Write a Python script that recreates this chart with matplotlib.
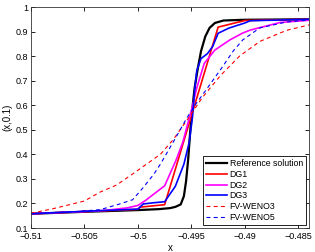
import matplotlib
matplotlib.use("Agg")
import matplotlib.pyplot as plt
from matplotlib.ticker import FuncFormatter

plt.rcParams['font.family'] = ['Liberation Sans', 'DejaVu Sans']
plt.rcParams['axes.unicode_minus'] = True

# Reference solution
ref_x = [-0.51, -0.505, -0.5, -0.498, -0.497, -0.4965, -0.496, -0.4957, -0.4955, -0.4953,
         -0.4951, -0.4949, -0.4947, -0.4944, -0.4941, -0.4937, -0.4933, -0.4928, -0.492, -0.490, -0.484]
ref_y = [0.158, 0.166, 0.173, 0.177, 0.181, 0.186, 0.196, 0.23, 0.29, 0.38,
         0.50, 0.59, 0.67, 0.75, 0.82, 0.88, 0.915, 0.935, 0.945, 0.948, 0.95]

# DG1
dg1_x = [-0.51, -0.505, -0.5, -0.4998, -0.4975, -0.4925, -0.490, -0.484]
dg1_y = [0.158, 0.167, 0.176, 0.185, 0.195, 0.918, 0.945, 0.95]

# DG2
dg2_x = [-0.51, -0.505, -0.503, -0.501, -0.5, -0.4993, -0.4975, -0.4964, -0.4958, -0.495,
         -0.4945, -0.4938, -0.4928, -0.4914, -0.4902, -0.4895, -0.4867, -0.484]
dg2_y = [0.158, 0.167, 0.172, 0.182, 0.192, 0.212, 0.272, 0.38, 0.45, 0.58,
         0.67, 0.77, 0.825, 0.866, 0.894, 0.906, 0.937, 0.946]

# DG3
dg3_x = [-0.51, -0.505, -0.5, -0.4995, -0.4985, -0.4975, -0.4965, -0.4957, -0.4952, -0.4949,
         -0.4947, -0.4945, -0.4941, -0.4935, -0.493, -0.4925, -0.4915, -0.490, -0.4895, -0.484]
dg3_y = [0.158, 0.168, 0.177, 0.198, 0.203, 0.207, 0.27, 0.36, 0.45, 0.55,
         0.66, 0.74, 0.79, 0.81, 0.84, 0.893, 0.914, 0.935, 0.944, 0.95]

# FV-WENO3
w3_x = [-0.51, -0.508, -0.505, -0.5036, -0.502, -0.5005, -0.4979, -0.4967, -0.4954, -0.494,
        -0.4923, -0.4905, -0.4886, -0.4861, -0.484]
w3_y = [0.16, 0.178, 0.21, 0.245, 0.275, 0.32, 0.40, 0.46, 0.54, 0.63,
        0.72, 0.80, 0.86, 0.905, 0.927]

# FV-WENO5
w5_x = [-0.51, -0.506, -0.5035, -0.5017, -0.5005, -0.4995, -0.4985, -0.4979, -0.4967, -0.4954,
        -0.4945, -0.4935, -0.4921, -0.4911, -0.4902, -0.4886, -0.4861, -0.484]
w5_y = [0.158, 0.166, 0.175, 0.198, 0.215, 0.265, 0.32, 0.36, 0.45, 0.55,
        0.61, 0.67, 0.756, 0.82, 0.866, 0.915, 0.939, 0.947]

x_ticks = [-0.51, -0.505, -0.5, -0.495, -0.49, -0.485]
y_ticks = [0.1, 0.2, 0.3, 0.4, 0.5, 0.6, 0.7, 0.8, 0.9, 1.0]

fig = plt.figure(figsize=(3.15, 2.52), dpi=100)
ax = fig.add_axes([0.0984, 0.0952, 0.8826, 0.8770])

ax.plot(ref_x, ref_y, color='black', lw=1.6, label='Reference solution')
ax.plot(dg1_x, dg1_y, color='#ff0000', lw=1.2, label='DG1')
ax.plot(dg2_x, dg2_y, color='#ff00ff', lw=1.2, label='DG2')
ax.plot(dg3_x, dg3_y, color='#0000ff', lw=1.2, label='DG3')
ax.plot(w3_x, w3_y, color='#ff0000', lw=0.8, ls=(0, (3.5, 3)), label='FV-WENO3')
ax.plot(w5_x, w5_y, color='#0000ff', lw=0.8, ls=(0, (3.5, 3)), label='FV-WENO5')

ax.set_xlim(-0.51, -0.484)
ax.set_ylim(0.1, 1.0)
ax.set_xticks(x_ticks)
ax.set_yticks(y_ticks)

def xfmt(v, pos):
    s = ('%g' % v)
    return s.replace('-', '\u2212')
ax.xaxis.set_major_formatter(FuncFormatter(xfmt))
ax.yaxis.set_major_formatter(FuncFormatter(lambda v, p: '%g' % round(v, 2)))

ax.tick_params(direction='in', length=3, width=0.6, labelsize=6.5, top=True, right=True)
ax.tick_params(axis='x', pad=3)
ax.tick_params(axis='y', pad=2)
for sp in ax.spines.values():
    sp.set_linewidth(0.6)
    sp.set_color('#333333')

ax.set_xlabel('x', fontsize=7, labelpad=1)
ax.set_ylabel('(x,0.1)', fontsize=7, labelpad=2)

leg = ax.legend(loc='lower right', fontsize=6.3, frameon=True, fancybox=False,
                edgecolor='black', framealpha=1, handlelength=2.4, handletextpad=0.3,
                borderpad=0.35, labelspacing=0.2, borderaxespad=0.35)
leg.get_frame().set_linewidth(0.6)

fig.savefig('out.png', dpi=100)
